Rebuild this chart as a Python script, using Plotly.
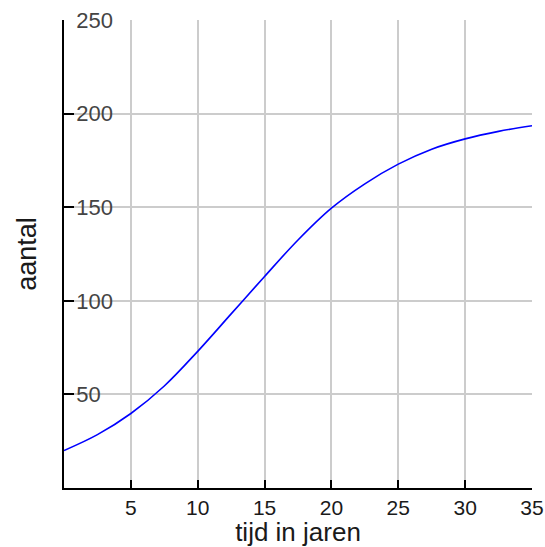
import plotly.graph_objects as go

# Population over time (years), read at 2.5-year steps
jaren = [0, 2.5, 5, 7.5, 10, 12.5, 15, 17.5, 20, 22.5, 25, 27.5, 30, 32.5, 35]
aantal = [20.0, 28.5, 39.8, 54.5, 73.0, 93.0, 113.0, 132.5, 149.5, 162.5,
          173.0, 181.0, 186.5, 190.5, 193.5]

x_ticks = [5, 10, 15, 20, 25, 30, 35]
y_ticks = [50, 100, 150, 200, 250]

fig = go.Figure()
fig.add_trace(go.Scatter(
    x=jaren, y=aantal, mode="lines",
    line=dict(color="#0000ff", width=1.6, shape="spline", smoothing=1.0),
    hoverinfo="skip", showlegend=False,
))

font_family = "Liberation Sans, Arial, sans-serif"

fig.update_layout(
    width=545, height=547,
    margin=dict(l=64, r=13, t=20, b=59),
    paper_bgcolor="white", plot_bgcolor="white",
    font=dict(family=font_family, color="#1a1a1a"),
    xaxis=dict(
        range=[0, 35], tickvals=x_ticks, ticktext=[str(v) for v in x_ticks],
        ticks="inside", ticklen=8, tickwidth=1.5, tickcolor="black",
        showline=True, linecolor="black", linewidth=1.5,
        showgrid=True, gridcolor="#cccccc", gridwidth=1.5,
        zeroline=False, tickfont=dict(size=21), automargin=False,
        title=dict(text="tijd in jaren", font=dict(size=26), standoff=6),
    ),
    yaxis=dict(
        range=[0, 250], tickvals=y_ticks, ticktext=[str(v) for v in y_ticks],
        ticks="inside", ticklen=10, tickwidth=1.5, tickcolor="black",
        ticklabelposition="inside", ticklabeloverflow="allow",
        ticklabelstandoff=4,
        showline=True, linecolor="black", linewidth=1.5,
        showgrid=True, gridcolor="#cccccc", gridwidth=1.5,
        zeroline=False, tickfont=dict(size=22), automargin=False,
        title=dict(text="aantal", font=dict(size=27), standoff=32),
    ),
)

fig.write_html("out.html")
